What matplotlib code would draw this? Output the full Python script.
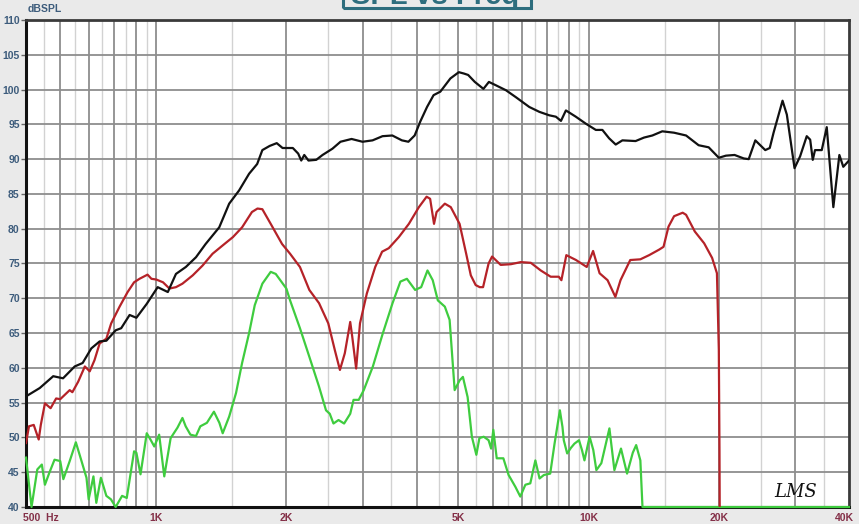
import matplotlib
matplotlib.use("Agg")
import matplotlib.pyplot as plt
from matplotlib.patches import Rectangle

# ---- measured responses (frequency in Hz, level in dB SPL) ----
freq_total = [500, 538, 578, 609, 648, 676, 708, 740, 767, 806, 830, 868, 900, 951,
              1008, 1064, 1111, 1171, 1236, 1301, 1399, 1475, 1555, 1640, 1712, 1760,
              1830, 1900, 1960, 2070, 2130, 2165, 2200, 2250, 2345, 2425, 2556, 2668,
              2830, 3000, 3165, 3337, 3516, 3700, 3830, 3960, 4080, 4230, 4380, 4540,
              4790, 5010, 5150, 5265, 5455, 5711, 5880, 6110, 6440, 6790, 7290, 7690,
              8110, 8400, 8630, 8860, 9340, 9850, 10390, 10760, 11150, 11550, 11970,
              12840, 13430, 14040, 14800, 15760, 16800, 17960, 18950, 20000, 20770,
              21750, 22840, 23450, 24290, 25610, 26230, 26770, 28080, 28730, 29930,
              30830, 31940, 32530, 32980, 33380, 34600, 35530, 36800, 38000, 38800,
              40000]
spl_total = [55.9, 57.1, 58.8, 58.5, 60.2, 60.7, 62.8, 63.8, 63.9, 65.4, 65.7, 67.6, 67.2, 69.2,
             71.6, 70.9, 73.5, 74.5, 75.9, 77.8, 80.2, 83.6, 85.5, 87.9, 89.3, 91.3,
             91.9, 92.3, 91.6, 91.6, 90.8, 89.8, 90.6, 89.8, 89.9, 90.6, 91.5, 92.5,
             92.9, 92.5, 92.7, 93.3, 93.4, 92.7, 92.5, 93.4, 95.4, 97.5, 99.2, 99.7,
             101.6, 102.5, 102.3, 102.1, 101.1, 100.1, 101.1, 100.6, 99.9, 98.9, 97.5, 96.8,
             96.3, 96.1, 95.5, 97.0, 96.1, 95.1, 94.2, 94.2, 93.0, 92.1, 92.7,
             92.6, 93.1, 93.4, 94.0, 93.8, 93.4, 92.0, 91.7, 90.2, 90.5,
             90.6, 90.1, 90.0, 92.7, 91.3, 91.6, 93.8, 98.4, 96.4, 88.7,
             90.4, 93.3, 92.8, 89.9, 91.3, 91.3, 94.6, 83.1, 90.6, 88.9,
             89.8]

freq_woofer = [500, 508, 521, 535, 541, 553, 570, 587, 600, 631, 640, 660, 684, 702, 720,
               740, 767, 787, 823, 859, 889, 915, 955, 975, 1000, 1037, 1073, 1111, 1150,
               1215, 1280, 1350, 1425, 1505, 1580, 1665, 1715, 1760, 1840, 1955, 2040,
               2150, 2260, 2380, 2500, 2590, 2660, 2730, 2810, 2840, 2900, 2960, 3070,
               3210, 3330, 3450, 3640, 3840, 4050, 4220, 4300, 4390, 4450, 4650, 4800,
               5030, 5210, 5340, 5480, 5600, 5700, 5870, 5980, 6260, 6610, 6970, 7350,
               7750, 8170, 8530, 8650, 8880, 9350, 9900, 10240, 10600, 11060, 11530,
               11850, 12480, 13170, 13800, 14560, 14900, 15300, 15760, 16500, 16800,
               17600, 18500, 19300, 19800, 20000, 20070, 20100]
spl_woofer = [49.2, 51.6, 51.8, 49.7, 51.8, 54.9, 54.2, 55.6, 55.5, 56.8, 56.5, 58.0, 60.2, 59.5, 61.1,
              63.5, 64.2, 66.4, 68.8, 70.9, 72.3, 72.8, 73.4, 72.8, 72.7, 72.3, 71.4, 71.6, 72.1,
              73.3, 74.7, 76.4, 77.6, 78.8, 80.2, 82.4, 82.9, 82.8, 80.7, 77.8, 76.4,
              74.5, 71.2, 69.3, 66.4, 62.5, 59.7, 62.1, 66.6, 64.5, 59.9, 66.4, 70.7,
              74.5, 76.7, 77.2, 78.8, 80.7, 83.1, 84.6, 84.3, 80.7, 82.4, 83.6, 83.1,
              80.7, 76.4, 73.3, 71.9, 71.6, 71.6, 75.0, 76.0, 74.8, 74.9, 75.2, 75.1,
              74.0, 73.1, 73.1, 72.6, 76.2, 75.5, 74.5, 76.8, 73.6, 72.6, 70.2,
              72.6, 75.5, 75.6, 76.2, 77.0, 77.4, 80.3, 81.8, 82.3, 82.0,
              79.6, 77.9, 75.8, 73.6, 62.6, 48.3, 38.0]

freq_mid = [500, 515, 531, 544, 553, 566, 582, 600, 610, 631, 652, 672, 690, 698, 716, 727,
            745, 767, 786, 806, 834, 855, 889, 900, 920, 951, 970, 990, 1016, 1044, 1080,
            1120, 1150, 1170, 1200, 1236, 1265, 1310, 1360, 1400, 1425, 1475, 1530, 1580,
            1640, 1690, 1760, 1840, 1890, 2000, 2040, 2150, 2260, 2380, 2470, 2520, 2570,
            2640, 2720, 2810, 2860, 2940, 3020, 3170, 3340, 3520, 3670, 3800, 3970, 4100,
            4240, 4360, 4480, 4650, 4770, 4900, 5030, 5120, 5250, 5370, 5500, 5590, 5720,
            5870, 5950, 6020, 6130, 6350, 6530, 6770, 6950, 7140, 7330, 7530, 7700, 7880,
            8150, 8340, 8580, 8700, 8760, 8920, 9100, 9270, 9500, 9650, 9780, 10050, 10250,
            10420, 10700, 11170, 11470, 11880, 12270, 12650, 12880, 13170, 13320, 40000]
spl_mid = [47.1, 40.0, 45.4, 46.1, 43.2, 44.9, 46.8, 46.6, 44.0, 46.6, 49.3, 46.6, 44.2, 41.1, 44.4, 40.6,
           44.2, 41.6, 41.1, 40.0, 41.6, 41.3, 48.0, 47.8, 44.7, 50.6, 49.7, 48.7, 50.4, 44.4, 49.9,
           51.4, 52.8, 51.6, 50.4, 50.2, 51.6, 52.1, 53.7, 52.1, 50.6, 53.0, 56.4, 60.7,
           65.0, 69.0, 72.1, 73.8, 73.5, 71.4, 69.7, 65.7, 61.6, 57.3, 53.9, 53.4, 52.0,
           52.5, 52.0, 53.4, 55.4, 55.4, 56.8, 60.2, 64.9, 69.3, 72.4, 72.8, 71.2, 71.6,
           74.0, 72.6, 69.7, 68.8, 66.9, 56.8, 58.2, 58.7, 55.8, 50.1, 47.5, 49.9, 50.1,
           49.6, 48.4, 51.1, 47.0, 47.0, 44.6, 42.9, 41.5, 43.2, 43.4, 46.7, 44.1, 44.6,
           44.8, 49.1, 53.9, 51.5, 49.6, 47.7, 48.5, 49.1, 49.6, 48.2, 46.7, 50.1, 48.2,
           45.3, 46.3, 51.3, 45.3, 48.4, 44.8, 47.8, 48.9, 46.7, 40.0, 40.0]

y_ticks = list(range(40, 111, 5))
x_labels = {500: "500  Hz", 1000: "1K", 2000: "2K", 5000: "5K",
            10000: "10K", 20000: "20K", 40000: "40K"}

# grid: darker lines at whole steps, lighter lines at the half steps
grid_major = [600, 700, 800, 900, 1000] + [k * 1000 for k in range(2, 11)] + [20000, 30000]
grid_minor = [550, 650, 750, 850, 950] + [k * 1000 + 500 for k in range(1, 10)] + [15000, 25000, 35000]

plt.rcParams["font.family"] = ["Liberation Sans", "DejaVu Sans"]

fig = plt.figure(figsize=(8.59, 5.24), dpi=100, facecolor="#eaeaea")
ax = fig.add_axes([26 / 859, 17 / 524, 823 / 859, 487 / 524])
ax.set_facecolor("white")
ax.set_xscale("log")
ax.set_xlim(500, 40000)
ax.set_ylim(40, 110)

for f in grid_minor:
    ax.axvline(f, color="#d2d2d2", lw=1.0, zorder=1)
for f in grid_major:
    ax.axvline(f, color="#8e8e8e", lw=1.3, zorder=1)
for v in y_ticks[1:-1]:
    ax.axhline(v, color="#8e8e8e", lw=1.3, zorder=1)

ax.set_xticks([])
ax.set_xticks([], minor=True)
ax.set_yticks(y_ticks)
ax.set_yticklabels([str(v) for v in y_ticks])
ax.tick_params(axis="y", length=3.5, width=1, color="#666666", pad=1,
               labelsize=7.5, labelcolor="#3d5c7c")
for lab in ax.get_yticklabels():
    lab.set_fontweight("bold")

for spine in ("left", "bottom"):
    ax.spines[spine].set_color("#111111")
    ax.spines[spine].set_linewidth(2.2)
for spine in ("top", "right"):
    ax.spines[spine].set_color("#3a3a3a")
    ax.spines[spine].set_linewidth(2.0)

ax.plot(freq_mid, spl_mid, color="#3fcc3f", lw=1.6, zorder=4, clip_on=False)
ax.plot(freq_woofer, spl_woofer, color="#b52228", lw=1.6, zorder=5)
ax.plot(freq_total, spl_total, color="#111111", lw=1.6, zorder=6)

xt = ax.get_xaxis_transform()
for f, txt in x_labels.items():
    ha = "left" if f == 500 else "center"
    xpos = f * 0.985 if f == 500 else f
    if f == 40000:
        xpos = 39000
    ax.text(xpos, -0.022, txt, transform=xt, ha=ha, va="center", fontsize=7.5,
            fontweight="bold", color="#843048")

ax.text(0.002, 1.012, "dBSPL", transform=ax.transAxes, ha="left", va="bottom",
        fontsize=7.5, fontweight="bold", color="#3d5c7c")

ax.text(0.935, 0.03, "LMS", transform=ax.transAxes, ha="center", va="center",
        fontsize=13, fontstyle="italic", family="DejaVu Serif", color="#111111")

# title box, partly outside the canvas
fig.text(435 / 859, 1 - 4 / 524, "SPL vs Freq", ha="center", va="baseline",
         fontsize=21, fontweight="bold", color="#2e6e7e")
fig.add_artist(Rectangle((343 / 859, 1 - 7.5 / 524), 188 / 859, 30 / 524,
                         transform=fig.transFigure, fill=False,
                         edgecolor="#2e6e7e", lw=2.2))

fig.savefig("out.png", dpi=100, facecolor=fig.get_facecolor())
